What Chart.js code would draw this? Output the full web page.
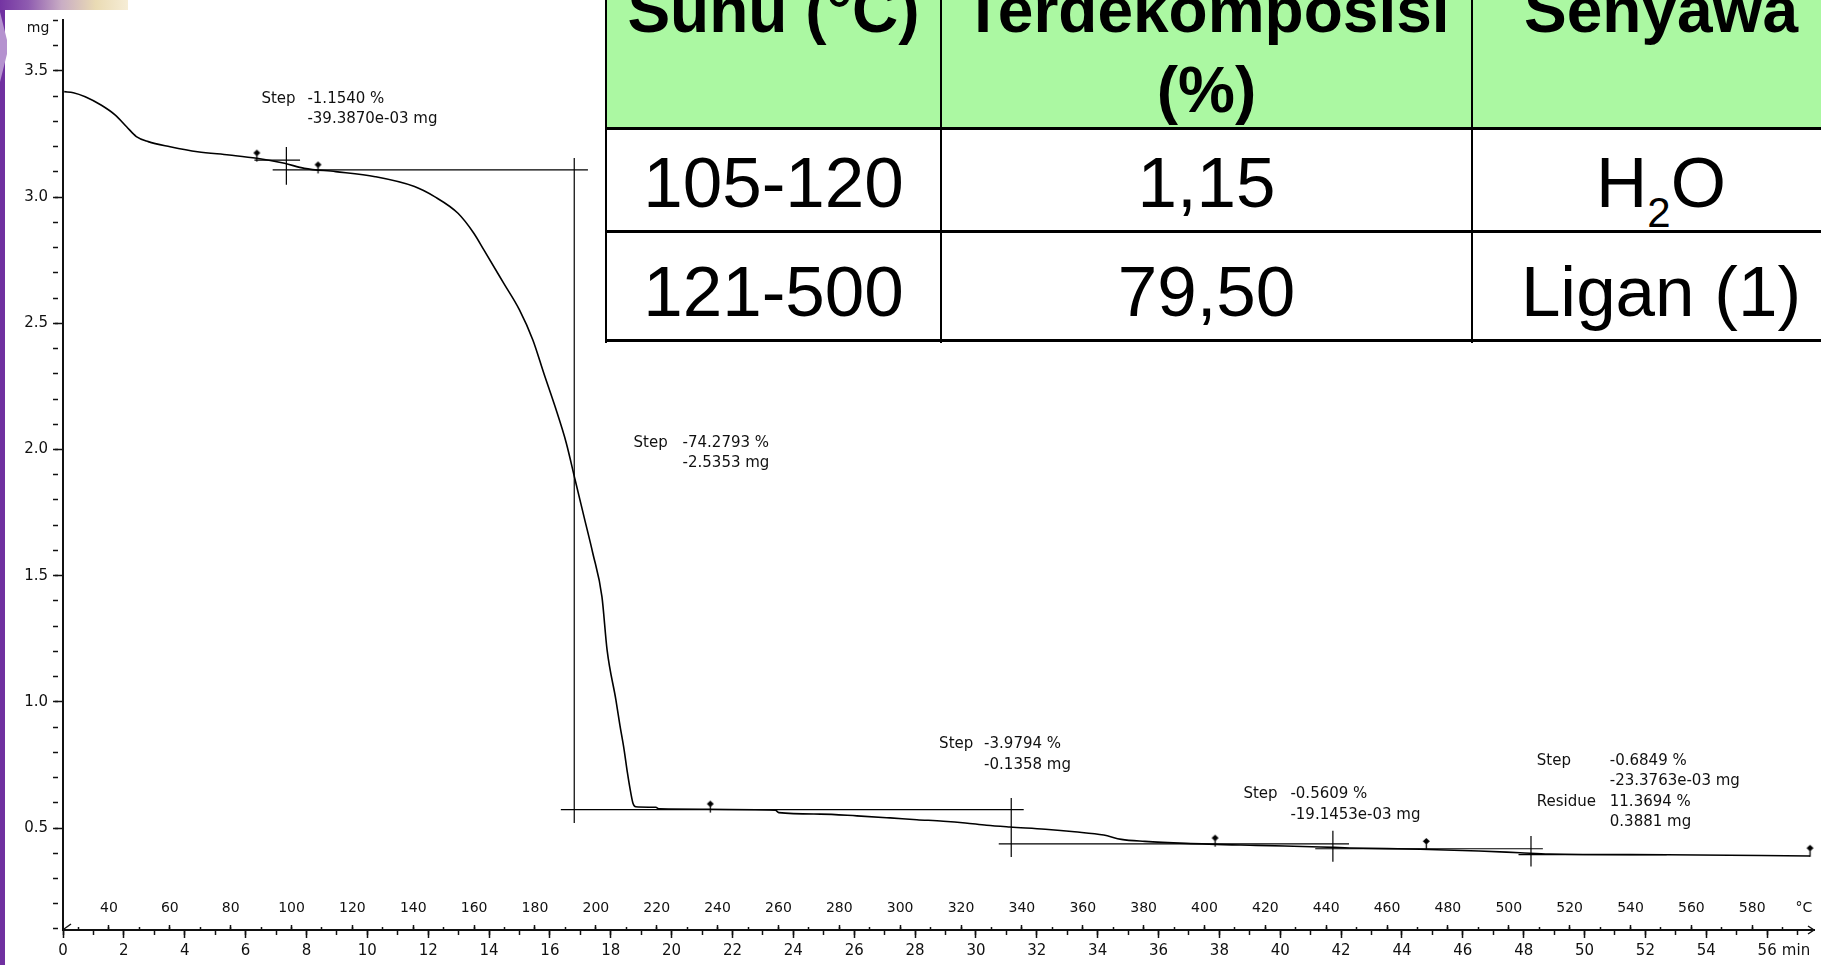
<!DOCTYPE html>
<html>
<head>
<meta charset="utf-8">
<script src="https://cdn.jsdelivr.net/npm/chart.js@4.4.1/dist/chart.umd.min.js"></script>
<style>
  html, body { margin: 0; padding: 0; background: #fff; }
  body { width: 1821px; height: 965px; position: relative; overflow: hidden; }
  #tga { position: absolute; left: 0; top: 0; }
  .edge { position: absolute; left: 0; top: 0; width: 5px; height: 965px; background: #7030a0; }
  .corner { position: absolute; left: 0; top: 0; width: 128px; height: 10px;
            background: linear-gradient(90deg, #7434a2 0%, #8f5cb0 22%, #c9adc4 48%, #eadbb4 75%, #f6edd6 100%); }
  .wedge { position: absolute; left: 0; top: 12px; width: 7px; height: 70px; background: #b592cf;
           clip-path: polygon(0 0, 100% 40%, 100% 60%, 0 100%); }
  .grid { position: absolute; left: 0; top: 0; width: 1821px; height: 965px; pointer-events: none; }
  .head-bg { position: absolute; left: 606px; top: 0; width: 1250px; height: 129px; background: #abf8a2; }
  .body-bg { position: absolute; left: 606px; top: 129px; width: 1250px; height: 212px; background: #fff; }
  .vl { position: absolute; top: 0; width: 2px; height: 343px; background: #000; }
  .hl { position: absolute; left: 605px; width: 1250px; height: 3px; background: #000; }
  .cell { position: absolute; text-align: center; white-space: nowrap; color: #000;
          font-family: "Liberation Sans", Arial, sans-serif; }
  .hd { font-weight: bold; font-size: 64px; line-height: 64px; }
  .bd { font-size: 71px; line-height: 71px; }
  .bd sub { font-size: 42px; line-height: 0; vertical-align: -20px; }
</style>
</head>
<body>
<canvas id="tga" width="1821" height="965"></canvas>
<div class="edge"></div>
<div class="corner"></div>
<div class="wedge"></div>

<div class="grid">
  <div class="head-bg"></div>
  <div class="body-bg"></div>

  <div class="cell hd" style="left:606px;width:335px;top:-22px;">Suhu (°C)</div>
  <div class="cell hd" style="left:941px;width:531px;top:-22px;">Terdekomposisi</div>
  <div class="cell hd" style="left:941px;width:531px;top:58px;">(%)</div>
  <div class="cell hd" style="left:1472px;width:378px;top:-22px;">Senyawa</div>

  <div class="cell bd" style="left:606px;width:335px;top:147px;">105-120</div>
  <div class="cell bd" style="left:941px;width:531px;top:147px;">1,15</div>
  <div class="cell bd" style="left:1472px;width:378px;top:147px;">H<sub>2</sub>O</div>

  <div class="cell bd" style="left:606px;width:335px;top:256px;">121-500</div>
  <div class="cell bd" style="left:941px;width:531px;top:256px;">79,50</div>
  <div class="cell bd" style="left:1472px;width:378px;top:256px;">Ligan (1)</div>

  <div class="vl" style="left:605px;"></div>
  <div class="vl" style="left:940px;"></div>
  <div class="vl" style="left:1471px;"></div>
  <div class="hl" style="top:127px;"></div>
  <div class="hl" style="top:230px;"></div>
  <div class="hl" style="top:339px;"></div>
</div>

<script>
// ---- heating programme (temperature rises linearly with time) ----
const TIME_MAX_MIN = 57.54;      // right end of the time axis, min
const T_START_C = 24.9;          // furnace temperature at t = 0
const HEAT_RATE = 10;            // °C per minute
const MASS_MIN_MG = 0.0958;
const MASS_MAX_MG = 3.702;

// ---- TGA trace: sample mass vs furnace temperature ----
const tempC = [25.3, 28.3, 32.2, 37.4, 42.0, 45.8, 49.0, 52.9, 60.1, 69.1,
  79.5, 88.6, 97.7, 104.2, 114.5, 127.5, 140.4, 147.0, 154.7, 159.9,
  163.2, 169.7, 174.9, 179.3, 182.9, 186.6, 190.3, 193.2, 196.1, 199.0,
  202.0, 203.7, 206.6, 207.9, 209.3, 210.4, 211.5, 212.2, 213.1, 219.7,
  220.8, 259.0, 260.1, 273.8, 285.8, 296.7, 305.5, 314.2, 321.4, 328.4,
  336.1, 347.7, 357.3, 366.9, 372.7, 380.4, 393.9, 417.0, 438.2, 447.8,
  470.9, 490.2, 503.7, 513.3, 551.9, 599.0];
const massMg = [3.418, 3.414, 3.398, 3.365, 3.326, 3.279, 3.240, 3.220, 3.200, 3.180,
  3.167, 3.154, 3.134, 3.114, 3.101, 3.081, 3.042, 3.002, 2.936, 2.857,
  2.791, 2.659, 2.553, 2.434, 2.302, 2.170, 2.025, 1.879, 1.734, 1.589,
  1.417, 1.205, 1.007, 0.908, 0.809, 0.717, 0.638, 0.598, 0.584, 0.582,
  0.576, 0.571, 0.561, 0.555, 0.548, 0.540, 0.533, 0.527, 0.520, 0.511,
  0.504, 0.495, 0.485, 0.472, 0.455, 0.447, 0.439, 0.431, 0.425, 0.421,
  0.416, 0.409, 0.402, 0.397, 0.394, 0.389];

// ---- step evaluation construction lines: [T1, mg1, T2, mg2] ----
const stepLines = [
  [87.8, 3.147, 102.8, 3.147],
  [98.3, 3.199, 98.3, 3.049],
  [93.8, 3.108, 197.4, 3.108],
  [192.9, 3.155, 192.9, 0.520],
  [188.5, 0.5727, 340.6, 0.5727],
  [336.5, 0.619, 336.5, 0.385],
  [332.4, 0.4369, 447.5, 0.4369],
  [442.2, 0.489, 442.2, 0.366],
  [436.4, 0.4178, 511.2, 0.4178],
  [507.3, 0.468, 507.3, 0.347],
  [503.2, 0.3944, 551.9, 0.3944]
];

// ---- evaluation limit markers ----
const markerTemp = [88.6, 108.7, 237.6, 403.5, 472.9, 599.0];
const markerMass = [3.141, 3.094, 0.561, 0.426, 0.413, 0.386];

// ---- step results ----
const stepTitles = [
  ['Step', ''],
  ['Step', ''],
  ['Step', ''],
  ['Step', ''],
  ['Step', '', 'Residue', '']
];
const stepValues = [
  ['-1.1540 %', '-39.3870e-03 mg'],
  ['-74.2793 %', '-2.5353 mg'],
  ['-3.9794 %', '-0.1358 mg'],
  ['-0.5609 %', '-19.1453e-03 mg'],
  ['-0.6849 %', '-23.3763e-03 mg', '11.3694 %', '0.3881 mg']
];
// where each result block sits, in (°C, mg)
const stepAnchorTemp = [90.1, 212.4, 312.8, 412.8, 509.2];
const stepAnchorMass = [3.389, 2.026, 0.831, 0.633, 0.766];
const stepValueIndent = [46, 49, 45, 47, 73];   // px from title to values
const STEP_LINE_GAP = 20.5;

// ---- axis tick settings ----
const massTickStep = 0.5, massMinorStep = 0.1;
const timeTickStep = 2, timeMinorStep = 1;
const tempTickStep = 20, tempMinorStep = 10;
const TEMP_LAST_TICK = 590;

const TEMP_MIN = T_START_C;
const TEMP_MAX = T_START_C + HEAT_RATE * TIME_MAX_MIN;

// pin symbol used for evaluation limits (stick foot sits on the point)
const pin = document.createElement('canvas');
pin.width = 11; pin.height = 26;
(function () {
  const c = pin.getContext('2d');
  c.fillStyle = '#000'; c.strokeStyle = '#000'; c.lineWidth = 1.3;
  c.beginPath(); c.moveTo(5.5, 1); c.lineTo(9, 4.2); c.lineTo(5.5, 7.4); c.lineTo(2, 4.2); c.closePath(); c.fill();
  c.beginPath(); c.moveTo(5.5, 6); c.lineTo(5.5, 13); c.stroke();
})();

const FONT = '"DejaVu Sans", Verdana, sans-serif';
Chart.defaults.font.family = FONT;
Chart.defaults.color = '#111';

const curve = tempC.map((t, i) => ({ x: t, y: massMg[i] }));
const guideSets = stepLines.map(s => ({
  data: [{ x: s[0], y: s[1] }, { x: s[2], y: s[3] }],
  xAxisID: 'temp', yAxisID: 'y', showLine: true,
  borderColor: '#000', borderWidth: 1.2, pointRadius: 0
}));

const dropTicksAbove = limit => scale => { scale.ticks = scale.ticks.filter(t => t.value <= limit); };

const textPlugin = {
  id: 'tgaText',
  afterDraw(chart) {
    const { ctx, chartArea, scales } = chart;
    const tx = scales.temp, my = scales.y;
    ctx.save();
    ctx.fillStyle = '#111';
    ctx.textBaseline = 'middle';
    ctx.textAlign = 'left';
    ctx.font = '15px ' + FONT;
    stepTitles.forEach((titles, b) => {
      const x0 = tx.getPixelForValue(stepAnchorTemp[b]);
      const y0 = my.getPixelForValue(stepAnchorMass[b]);
      titles.forEach((title, i) => {
        const yy = y0 + i * STEP_LINE_GAP;
        if (title) ctx.fillText(title, x0, yy);
        ctx.fillText(stepValues[b][i], x0 + stepValueIndent[b], yy);
      });
    });
    // axis units
    ctx.textAlign = 'center';
    ctx.font = '14px ' + FONT;
    ctx.fillText('mg', chartArea.left - 25, chartArea.top + 8);
    ctx.fillText('°C', chartArea.right - 10, chartArea.bottom - 21.5);
    ctx.font = '15px ' + FONT;
    ctx.fillText('min', chartArea.right - 18, chartArea.bottom + 21.5);
    // arrow head at the end of the abscissa, small mark at the origin
    ctx.strokeStyle = '#111';
    ctx.lineWidth = 1.4;
    ctx.beginPath();
    ctx.moveTo(chartArea.right - 6, chartArea.bottom - 4);
    ctx.lineTo(chartArea.right, chartArea.bottom);
    ctx.lineTo(chartArea.right - 6, chartArea.bottom + 4);
    ctx.stroke();
    ctx.beginPath();
    ctx.moveTo(chartArea.left + 1, chartArea.bottom - 1);
    ctx.lineTo(chartArea.left + 8, chartArea.bottom - 6);
    ctx.stroke();
    ctx.restore();
  }
};

new Chart(document.getElementById('tga'), {
  type: 'scatter',
  data: {
    datasets: [
      { label: 'TGA', data: curve, xAxisID: 'temp', yAxisID: 'y', showLine: true,
        borderColor: '#000', borderWidth: 1.6, pointRadius: 0, cubicInterpolationMode: 'monotone' },
      ...guideSets,
      { label: 'limits', data: markerTemp.map((t, i) => ({ x: t, y: markerMass[i] })),
        xAxisID: 'temp', yAxisID: 'y', showLine: false, pointStyle: pin, pointRadius: 6, clip: false }
    ]
  },
  options: {
    responsive: false,
    animation: false,
    devicePixelRatio: 1,
    events: [],
    layout: { padding: { top: 20, right: 3, bottom: 0, left: 0 } },
    plugins: { legend: { display: false }, tooltip: { enabled: false } },
    scales: {
      x: {
        type: 'linear', axis: 'x', position: 'bottom',
        min: 0, max: TIME_MAX_MIN,
        afterFit: s => { s.height = 35; },
        border: { display: true, color: '#111', width: 2 },
        grid: { drawOnChartArea: false, drawTicks: true, tickLength: 8, tickColor: '#111', tickWidth: 1.5 },
        ticks: { stepSize: timeTickStep, includeBounds: false, autoSkip: false, maxRotation: 0, minRotation: 0,
                 padding: 4, color: '#111', font: { size: 15 }, callback: v => String(v) }
      },
      xMinor: {
        type: 'linear', axis: 'x', position: { y: MASS_MIN_MG },
        min: 0, max: TIME_MAX_MIN,
        border: { display: false },
        grid: { drawOnChartArea: false, drawTicks: true, tickLength: 5, tickColor: '#111', tickWidth: 1.5 },
        ticks: { display: false, stepSize: timeMinorStep, includeBounds: false, autoSkip: false }
      },
      temp: {
        type: 'linear', axis: 'x', position: { y: MASS_MIN_MG + 0.02 },
        min: TEMP_MIN, max: TEMP_MAX,
        afterBuildTicks: dropTicksAbove(TEMP_LAST_TICK),
        border: { display: false },
        grid: { drawOnChartArea: false, drawTicks: true, tickLength: 5, tickColor: '#111', tickWidth: 1.5 },
        ticks: { stepSize: tempTickStep, includeBounds: false, autoSkip: false, maxRotation: 0, minRotation: 0,
                 padding: -30, color: '#111', font: { size: 14 }, callback: v => String(v) }
      },
      tempMinor: {
        type: 'linear', axis: 'x', position: { y: MASS_MIN_MG + 0.012 },
        min: TEMP_MIN, max: TEMP_MAX,
        afterBuildTicks: dropTicksAbove(TEMP_LAST_TICK),
        border: { display: false },
        grid: { drawOnChartArea: false, drawTicks: true, tickLength: 3, tickColor: '#111', tickWidth: 1.5 },
        ticks: { display: false, stepSize: tempMinorStep, includeBounds: false, autoSkip: false }
      },
      y: {
        type: 'linear', axis: 'y', position: 'left',
        min: MASS_MIN_MG, max: MASS_MAX_MG,
        afterFit: s => { s.width = 63; },
        border: { display: true, color: '#111', width: 2 },
        grid: { drawOnChartArea: false, drawTicks: true, tickLength: 8, tickColor: '#111', tickWidth: 1.5 },
        ticks: { stepSize: massTickStep, includeBounds: false, autoSkip: false,
                 padding: 7, color: '#111', font: { size: 15 }, callback: v => v.toFixed(1) }
      },
      yMinor: {
        type: 'linear', axis: 'y', position: { x: -0.16 },
        min: MASS_MIN_MG, max: MASS_MAX_MG,
        border: { display: false },
        grid: { drawOnChartArea: false, drawTicks: true, tickLength: 5, tickColor: '#111', tickWidth: 1.5 },
        ticks: { display: false, stepSize: massMinorStep, includeBounds: false, autoSkip: false }
      }
    }
  },
  plugins: [textPlugin]
});
</script>
</body>
</html>
